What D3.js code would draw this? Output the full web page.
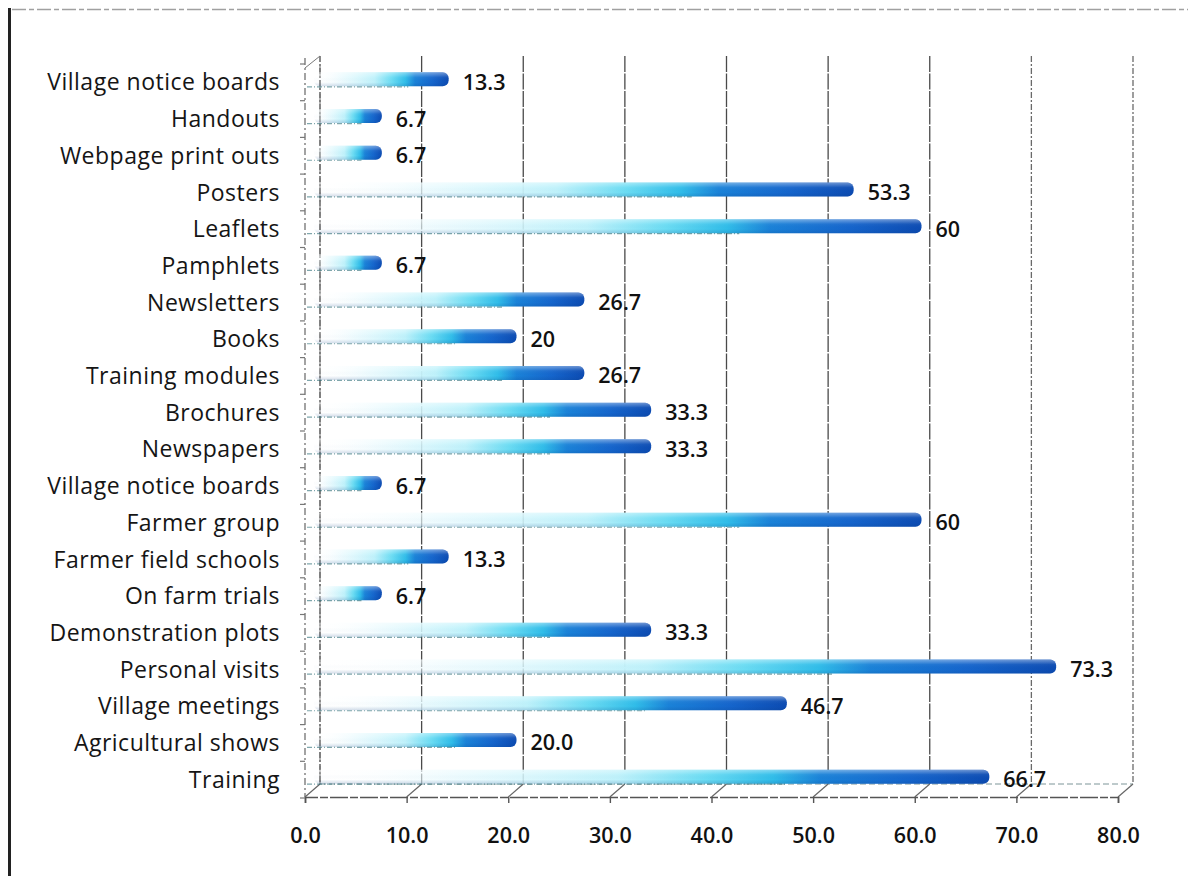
<!DOCTYPE html>
<html>
<head>
<meta charset="utf-8">
<script src="https://cdn.jsdelivr.net/npm/d3@7"></script>
<style>
  html, body { margin: 0; padding: 0; background: #ffffff; }
  svg { display: block; }
</style>
</head>
<body>
<svg id="chart" width="1188" height="876"></svg>
<script>
// Channels used to reach farmers (% of respondents), top to bottom
const categories = [
  "Village notice boards", "Handouts", "Webpage print outs", "Posters", "Leaflets",
  "Pamphlets", "Newsletters", "Books", "Training modules", "Brochures",
  "Newspapers", "Village notice boards", "Farmer group", "Farmer field schools",
  "On farm trials", "Demonstration plots", "Personal visits", "Village meetings",
  "Agricultural shows", "Training"
];
const values = [13.3, 6.7, 6.7, 53.3, 60, 6.7, 26.7, 20, 26.7, 33.3,
                33.3, 6.7, 60, 13.3, 6.7, 33.3, 73.3, 46.7, 20.0, 66.7];
const valueLabels = ["13.3", "6.7", "6.7", "53.3", "60", "6.7", "26.7", "20", "26.7", "33.3",
                     "33.3", "6.7", "60", "13.3", "6.7", "33.3", "73.3", "46.7", "20.0", "66.7"];
const tickValues = [0, 10, 20, 30, 40, 50, 60, 70, 80];
const tickLabels = ["0.0", "10.0", "20.0", "30.0", "40.0", "50.0", "60.0", "70.0", "80.0"];

const svg = d3.select("#chart");
const font = "'Open Sans', 'DejaVu Sans', sans-serif";

// Outer frame: heavy left rule, light dashed top rule
svg.append("line").attr("x1", 9.5).attr("x2", 9.5).attr("y1", 8).attr("y2", 876)
  .attr("stroke", "#222").attr("stroke-width", 3);
svg.append("line").attr("x1", 12).attr("x2", 1188).attr("y1", 9.5).attr("y2", 9.5)
  .attr("stroke", "#a0a0a0").attr("stroke-width", 1.4).attr("stroke-dasharray", "14,3,5,3");

// Pseudo-3D plot box: front plane (axis) and back plane (grid) offset by depth
const depthX = 15, depthY = -13;
const plotTop = 56, floorFront = 797;

const x = d3.scaleLinear().domain([0, 80]).range([305, 1118]);   // front axis
const xBar = d3.scaleLinear().domain([0, 80]).range([314, 1124]); // bar ends
const y = d3.scaleBand().domain(d3.range(categories.length)).range([64, 798]);

// Back-wall gridlines
svg.append("g").selectAll("line").data(tickValues).join("line")
  .attr("x1", d => x(d) + depthX).attr("x2", d => x(d) + depthX)
  .attr("y1", plotTop).attr("y2", floorFront + depthY)
  .attr("stroke", (d, i) => i >= 7 ? "#6a6a6a" : "#4a4a4a").attr("stroke-width", 1.3)
  .attr("stroke-dasharray", (d, i) => (i === 0 || i >= 7) ? "6,2,2,2" : "16,1.5");

// Floor: back edge, front edge and diagonal connectors
svg.append("line").attr("x1", x(0) + depthX).attr("x2", x(80) + depthX)
  .attr("y1", floorFront + depthY).attr("y2", floorFront + depthY)
  .attr("stroke", "#7d9598").attr("stroke-width", 1).attr("stroke-dasharray", "6,3");
svg.append("g").selectAll("line").data(tickValues).join("line")
  .attr("x1", d => x(d)).attr("x2", d => x(d) + depthX)
  .attr("y1", floorFront).attr("y2", floorFront + depthY)
  .attr("stroke", "#666").attr("stroke-width", 1.2);

// Front axis (bottom) with tick marks
const axis = d3.axisBottom(x).tickValues(tickValues).tickSize(6).tickFormat((d, i) => tickLabels[i]);
const gAxis = svg.append("g").attr("transform", `translate(0,${floorFront})`).call(axis);
gAxis.select(".domain").attr("stroke", "#555").attr("stroke-width", 1.6).attr("stroke-dasharray", "18,2,8,2");
gAxis.selectAll(".tick line").attr("stroke", "#555").attr("stroke-width", 1.4);
gAxis.selectAll(".tick text")
  .attr("y", 31).attr("fill", "#111")
  .style("font-family", font).style("font-size", "21.5px").style("font-weight", 600);

// Left walls: front edge and back edge
svg.append("line").attr("x1", x(0)).attr("x2", x(0)).attr("y1", plotTop + 2).attr("y2", floorFront)
  .attr("stroke", "#666").attr("stroke-width", 1.2).attr("stroke-dasharray", "7,3,2,3");
svg.append("line").attr("x1", x(0) + depthX).attr("x2", x(0) + depthX).attr("y1", plotTop + 10).attr("y2", floorFront + depthY)
  .attr("stroke", "#777").attr("stroke-width", 1.1).attr("stroke-dasharray", "10,4");
svg.append("line").attr("x1", x(0)).attr("x2", x(0) + depthX).attr("y1", plotTop + 12).attr("y2", plotTop)
  .attr("stroke", "#777").attr("stroke-width", 1);
svg.append("g").selectAll("line").data(d3.range(categories.length + 1)).join("line")
  .attr("x1", x(0) - 5).attr("x2", x(0))
  .attr("y1", i => 64 + i * y.step()).attr("y2", i => 64 + i * y.step())
  .attr("stroke", "#777").attr("stroke-width", 1.2);

// Bar gradients: pale cyan fading in from the axis to deep blue at the tip
const defs = svg.append("defs");
const hg = defs.append("linearGradient").attr("id", "barFill")
  .attr("x1", 0).attr("x2", 1).attr("y1", 0).attr("y2", 0);
[
  [0.00, "#ffffff", 0.0],
  [0.20, "#e8fafe", 0.75],
  [0.45, "#bff2fb", 1],
  [0.58, "#6adcf3", 1],
  [0.68, "#30bde9", 1],
  [0.75, "#1a82d8", 1],
  [0.88, "#1565cc", 1],
  [1.00, "#0c4bb2", 1]
].forEach(([o, c, a]) => hg.append("stop").attr("offset", o).attr("stop-color", c).attr("stop-opacity", a));

const vg = defs.append("linearGradient").attr("id", "barShade")
  .attr("x1", 0).attr("x2", 0).attr("y1", 0).attr("y2", 1);
[
  [0.00, "#ffffff", 0.4],
  [0.35, "#ffffff", 0.05],
  [0.70, "#0a3a80", 0.0],
  [1.00, "#0a3a80", 0.18]
].forEach(([o, c, a]) => vg.append("stop").attr("offset", o).attr("stop-color", c).attr("stop-opacity", a));

const barH = 14;
const barY = i => y(i) + y.bandwidth() / 2 - 3 - barH / 2;

const bars = svg.append("g").selectAll("g").data(values).join("g");
bars.append("rect")
  .attr("x", xBar(0)).attr("y", (d, i) => barY(i))
  .attr("width", d => xBar(d) - xBar(0)).attr("height", barH)
  .attr("rx", 6).attr("fill", "url(#barFill)");
bars.append("rect")
  .attr("x", xBar(0)).attr("y", (d, i) => barY(i))
  .attr("width", d => xBar(d) - xBar(0)).attr("height", barH)
  .attr("rx", 6).attr("fill", "url(#barShade)");
// shadow line along the underside of each bar
bars.append("line")
  .attr("x1", x(0) + 2).attr("x2", d => xBar(d) - (xBar(d) - xBar(0)) * 0.3)
  .attr("y1", (d, i) => barY(i) + barH + 0.5).attr("y2", (d, i) => barY(i) + barH + 0.5)
  .attr("stroke", "#2a6a74").attr("stroke-opacity", 0.6).attr("stroke-width", 1.2)
  .attr("stroke-dasharray", "5,2,1,2");

// Value labels
svg.append("g").selectAll("text").data(values).join("text")
  .attr("x", d => xBar(d) + 14)
  .attr("y", (d, i) => y(i) + y.bandwidth() / 2)
  .attr("dy", "0.35em")
  .attr("fill", "#111")
  .style("font-family", font).style("font-size", "21.5px").style("font-weight", 600)
  .text((d, i) => valueLabels[i]);

// Category labels
svg.append("g").selectAll("text").data(categories).join("text")
  .attr("x", 280)
  .attr("y", (d, i) => y(i) + y.bandwidth() / 2)
  .attr("dy", "0.35em")
  .attr("text-anchor", "end")
  .attr("fill", "#151515")
  .style("font-family", font).style("font-size", "23px").style("letter-spacing", "0.5px")
  .text(d => d);
</script>
</body>
</html>
